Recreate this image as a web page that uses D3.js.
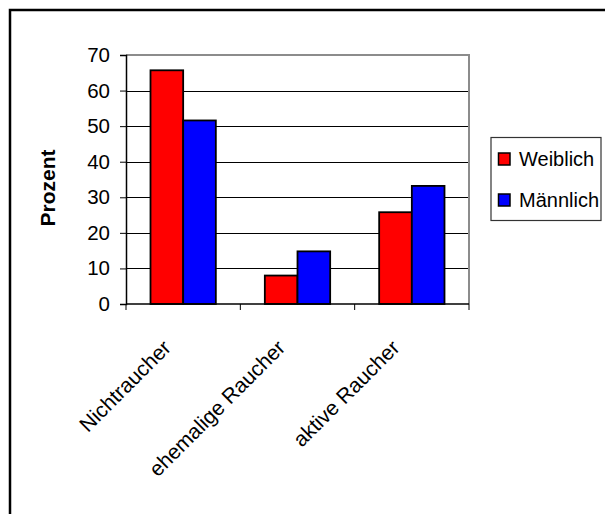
<!DOCTYPE html>
<html>
<head>
<meta charset="utf-8">
<script src="https://cdn.jsdelivr.net/npm/d3@7"></script>
<style>
  html, body { margin: 0; padding: 0; background: #fff; }
  svg { display: block; font-family: "Liberation Sans", Arial, sans-serif; }
</style>
</head>
<body>
<svg id="chart" width="605" height="514"></svg>
<script>
// Smoking status by sex, in percent
const categories = ["Nichtraucher", "ehemalige Raucher", "aktive Raucher"];
const seriesNames = ["Weiblich", "Männlich"];
const weiblich = [65.7, 8.0, 25.8];
const maennlich = [51.6, 14.8, 33.2];
const yTicks = [0, 10, 20, 30, 40, 50, 60, 70];
const seriesColors = ["#ff0000", "#0000ff"];

const svg = d3.select("#chart");

// outer chart frame
svg.append("rect")
  .attr("x", 10).attr("y", 10)
  .attr("width", 620).attr("height", 530)
  .attr("fill", "#fff").attr("stroke", "#000").attr("stroke-width", 2.5);

const plot = { left: 126, right: 469, top: 55, bottom: 304 };

const y = d3.scaleLinear().domain([0, 70]).range([plot.bottom, plot.top]);
const x = d3.scaleBand().domain(categories).range([plot.left, plot.right]).paddingInner(0).paddingOuter(0);
const xs = d3.scaleBand().domain(seriesNames).range([0, x.bandwidth()]).paddingInner(0).paddingOuter(0.75);

// horizontal gridlines
svg.append("g")
  .selectAll("line")
  .data(yTicks.filter(t => t > 0 && t < 70))
  .join("line")
  .attr("x1", plot.left).attr("x2", plot.right)
  .attr("y1", d => Math.round(y(d)) + 0.5).attr("y2", d => Math.round(y(d)) + 0.5)
  .attr("stroke", "#000").attr("stroke-width", 1);

// plot area border (top and right)
svg.append("path")
  .attr("d", `M${plot.left},${plot.top} H${plot.right} V${plot.bottom}`)
  .attr("fill", "none").attr("stroke", "#8c8c8c").attr("stroke-width", 2);

// bars
const rows = categories.map((c, i) => ({ cat: c, values: [weiblich[i], maennlich[i]] }));
const groups = svg.append("g").selectAll("g")
  .data(rows).join("g")
  .attr("transform", d => `translate(${x(d.cat)},0)`);
groups.selectAll("rect")
  .data(d => d.values.map((v, j) => ({ name: seriesNames[j], value: v, color: seriesColors[j] })))
  .join("rect")
  .attr("x", d => xs(d.name))
  .attr("y", d => y(d.value))
  .attr("width", xs.bandwidth())
  .attr("height", d => y(0) - y(d.value))
  .attr("fill", d => d.color)
  .attr("stroke", "#000").attr("stroke-width", 1.8);

// y axis
const yAxis = d3.axisLeft(y).tickValues(yTicks).tickSize(6).tickPadding(10);
const gy = svg.append("g").attr("transform", `translate(${plot.left},0)`).call(yAxis);
gy.select(".domain").attr("stroke", "#000").attr("stroke-width", 1.5);
gy.selectAll(".tick line").attr("stroke", "#000");
gy.selectAll(".tick text").attr("font-size", 20.5).attr("fill", "#000")
  .attr("font-family", "Liberation Sans, Arial, sans-serif");

// x axis with ticks at category boundaries
const xAxisG = svg.append("g").attr("transform", `translate(0,${plot.bottom})`);
xAxisG.append("line")
  .attr("x1", plot.left).attr("x2", plot.right)
  .attr("stroke", "#000").attr("stroke-width", 1.5);
const boundaries = categories.map(c => x(c)).concat([x(categories[categories.length - 1]) + x.bandwidth()]);
xAxisG.selectAll("line.tk").data(boundaries).join("line")
  .attr("class", "tk")
  .attr("x1", d => d).attr("x2", d => d)
  .attr("y1", 0).attr("y2", 6)
  .attr("stroke", "#000").attr("stroke-width", 1);

// rotated category labels
svg.append("g").selectAll("text")
  .data(categories).join("text")
  .attr("transform", d => `translate(${x(d) + x.bandwidth() / 2 - 11},${plot.bottom + 45}) rotate(-45)`)
  .attr("text-anchor", "end")
  .attr("font-size", 21)
  .attr("fill", "#000")
  .text(d => d);

// y axis title
svg.append("text")
  .attr("transform", `translate(55,188) rotate(-90)`)
  .attr("text-anchor", "middle")
  .attr("font-size", 21)
  .attr("font-weight", "bold")
  .attr("fill", "#000")
  .text("Prozent");

// legend
const legend = svg.append("g");
legend.append("rect")
  .attr("x", 491).attr("y", 137.5)
  .attr("width", 110).attr("height", 83)
  .attr("fill", "#fff").attr("stroke", "#333").attr("stroke-width", 1.2);
const items = legend.selectAll("g.item")
  .data(seriesNames.map((n, i) => ({ name: n, color: seriesColors[i] })))
  .join("g").attr("class", "item")
  .attr("transform", (d, i) => `translate(0,${i * 41})`);
items.append("rect")
  .attr("x", 498.5).attr("y", 153)
  .attr("width", 11.5).attr("height", 12)
  .attr("fill", d => d.color)
  .attr("stroke", "#000").attr("stroke-width", 1.5);
items.append("text")
  .attr("x", 519).attr("y", 166)
  .attr("font-size", 20)
  .attr("fill", "#000")
  .text(d => d.name);
</script>
</body>
</html>
